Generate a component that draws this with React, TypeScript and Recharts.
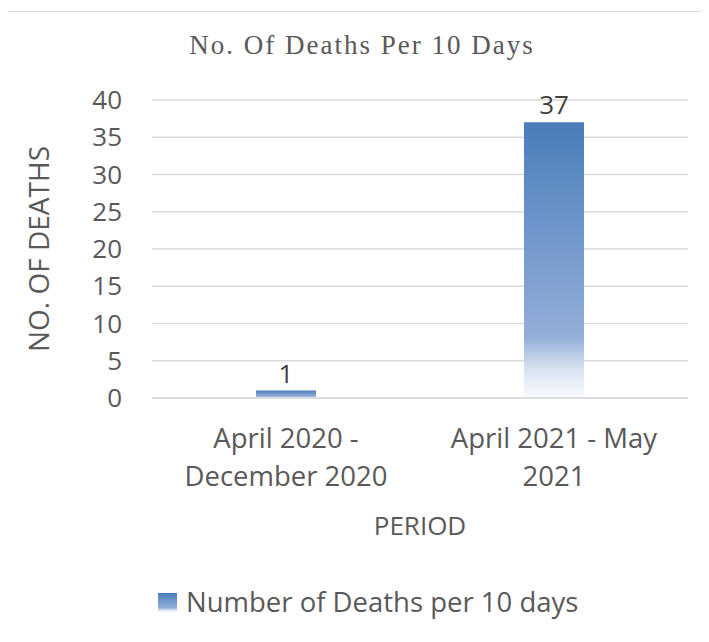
import React from "react";
import { BarChart, Bar, XAxis, YAxis, CartesianGrid, Legend, LabelList } from "recharts";

const periods = ["April 2020 - December 2020", "April 2021 - May 2021"];
const periodLines = [
  ["April 2020 -", "December 2020"],
  ["April 2021 - May", "2021"],
];
const deaths = [1, 37];
const yTicks = [0, 5, 10, 15, 20, 25, 30, 35, 40];

const data = periods.map((p, i) => ({ period: p, deaths: deaths[i] }));

const SANS = "'Open Sans', sans-serif";
const TEXT = "#595959";

const PeriodTick = (props: any) => {
  const { x, y, index } = props;
  const lines = periodLines[index] || [];
  return (
    <text x={x} y={y} textAnchor="middle" fill={TEXT} fontFamily={SANS} fontSize={27.5}>
      {lines.map((l, i) => (
        <tspan key={i} x={x} dy={i === 0 ? 42 : 38}>
          {l}
        </tspan>
      ))}
    </text>
  );
};

const LegendContent = (props: any) => {
  const items = props.payload || [];
  return (
    <div style={{ display: "flex", alignItems: "center" }}>
      {items.map((it: any, i: number) => (
        <div key={i} style={{ display: "flex", alignItems: "center" }}>
          <svg width={19} height={19} style={{ marginRight: 9 }}>
            <rect width={19} height={19} fill="url(#barGrad)" />
          </svg>
          <span style={{ color: TEXT, fontFamily: SANS, fontSize: 27.5, lineHeight: "36px" }}>
            {it.value}
          </span>
        </div>
      ))}
    </div>
  );
};

export default function App() {
  return (
    <div
      style={{
        position: "relative",
        width: 709,
        height: 642,
        margin: "-8px 0 0 -8px",
        background: "#fff",
        overflow: "hidden",
      }}
    >
      <div
        style={{
          position: "absolute",
          left: 7,
          top: 11,
          width: 740,
          height: 660,
          border: "1px solid #d9d9d9",
        }}
      />
      <div
        style={{
          position: "absolute",
          left: 0,
          width: 724,
          top: 30,
          textAlign: "center",
          fontFamily: "'Liberation Serif', serif",
          fontSize: 27,
          letterSpacing: 2,
          color: TEXT,
        }}
      >
        No. Of Deaths Per 10 Days
      </div>
      <div
        style={{
          position: "absolute",
          left: 38,
          top: 249,
          transform: "translate(-50%, -50%) rotate(-90deg)",
          whiteSpace: "nowrap",
          fontFamily: SANS,
          fontSize: 28,
          color: TEXT,
        }}
      >
        NO. OF DEATHS
      </div>
      <div
        style={{
          position: "absolute",
          left: 420,
          top: 525,
          transform: "translate(-50%, -50%)",
          whiteSpace: "nowrap",
          fontFamily: SANS,
          fontSize: 26,
          color: TEXT,
        }}
      >
        PERIOD
      </div>
      <div style={{ position: "absolute", left: 0, top: 0 }}>
        <BarChart
          width={709}
          height={642}
          data={data}
          margin={{ top: 100, right: 21, bottom: 144, left: 92 }}
        >
          <defs>
            <linearGradient id="barGrad" x1="0" y1="0" x2="0" y2="1">
              <stop offset="0%" stopColor="#4a7dbb" />
              <stop offset="78%" stopColor="#93afd8" />
              <stop offset="90%" stopColor="#dbe4f2" />
              <stop offset="100%" stopColor="#f8fafd" />
            </linearGradient>
          </defs>
          <CartesianGrid vertical={false} stroke="#d9d9d9" strokeWidth={1.5} />
          <XAxis
            dataKey="period"
            axisLine={{ stroke: "#d9d9d9", strokeWidth: 1.5 }}
            tickLine={false}
            tick={<PeriodTick />}
            interval={0}
            height={100}
          />
          <YAxis
            domain={[0, 40]}
            ticks={yTicks}
            width={60}
            axisLine={false}
            tickLine={false}
            tickSize={0}
            tickMargin={30}
            tick={{ fill: TEXT, fontFamily: SANS, fontSize: 26 }}
          />
          <Legend
            layout="horizontal"
            verticalAlign="middle"
            wrapperStyle={{ position: "absolute", left: 158, top: 584, width: "auto" }}
            content={<LegendContent />}
          />
          <Bar
            dataKey="deaths"
            name="Number of Deaths per 10 days"
            fill="url(#barGrad)"
            barSize={60}
            isAnimationActive={false}
          >
            <LabelList
              dataKey="deaths"
              position="top"
              offset={8}
              fill="#404040"
              fontFamily={SANS}
              fontSize={26}
            />
          </Bar>
        </BarChart>
      </div>
    </div>
  );
}
